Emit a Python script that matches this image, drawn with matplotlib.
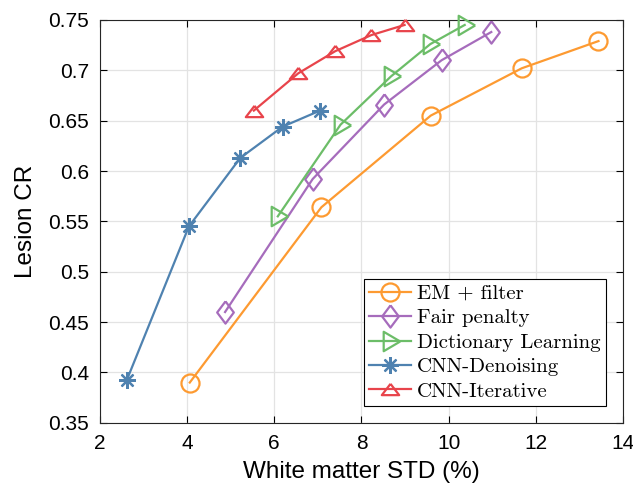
import matplotlib
matplotlib.use("Agg")
import matplotlib.pyplot as plt

# values
em_x = [4.06, 7.08, 9.59, 11.68, 13.44]
em_y = [0.390, 0.564, 0.655, 0.702, 0.729]

fair_x = [4.87, 6.88, 8.52, 9.84, 10.98]
fair_y = [0.460, 0.592, 0.666, 0.710, 0.738]

dict_x = [6.08, 7.52, 8.68, 9.58, 10.37]
dict_y = [0.555, 0.646, 0.694, 0.726, 0.745]

cnnd_x = [2.62, 4.04, 5.22, 6.19, 7.05]
cnnd_y = [0.393, 0.545, 0.613, 0.644, 0.660]

cnni_x = [5.53, 6.55, 7.40, 8.23, 8.99]
cnni_y = [0.660, 0.697, 0.719, 0.735, 0.745]

labels = ["EM + filter", "Fair penalty", "Dictionary Learning",
          "CNN-Denoising", "CNN-Iterative"]
colors = ["#fd9a31", "#a66cbc", "#6cbd68", "#4f82b0", "#e8444b"]

xticks = [2, 4, 6, 8, 10, 12, 14]
yticks = [0.35, 0.4, 0.45, 0.5, 0.55, 0.6, 0.65, 0.7, 0.75]
ytick_labels = ["0.35", "0.4", "0.45", "0.5", "0.55", "0.6", "0.65", "0.7", "0.75"]

# matlab-like marker shapes
diamond = [(0, 1), (0.75, 0), (0, -1), (-0.75, 0), (0, 1)]
tri_right = [(1, 0), (-0.7, 1), (-0.7, -1), (1, 0)]
tri_up = [(0, 0.65), (1, -0.65), (-1, -0.65), (0, 0.65)]

plt.rcParams['font.family'] = ['Liberation Sans', 'DejaVu Sans']

fig = plt.figure(figsize=(6.33, 4.86), dpi=100)
ax = fig.add_axes([0.158, 0.130, 0.826, 0.829])

series = [
    (em_x, em_y, 'o', 13),
    (fair_x, fair_y, diamond, 16),
    (dict_x, dict_y, tri_right, 14),
    (cnnd_x, cnnd_y, (8, 2, 0), 12),
    (cnni_x, cnni_y, tri_up, 12.5),
]
for (xs, ys, mk, ms), lab, col in zip(series, labels, colors):
    ax.plot(xs, ys, color=col, lw=1.6, marker=mk, ms=ms,
            mfc='none', mec=col, mew=1.6, label=lab, clip_on=False, zorder=3)

ax.set_xlim(2, 14)
ax.set_ylim(0.35, 0.75)
ax.set_xticks(xticks)
ax.set_yticks(yticks)
ax.set_yticklabels(ytick_labels)
ax.tick_params(direction='in', top=True, right=True, labelsize=15,
               length=5, width=0.8, pad=8)
ax.grid(True, color='#e3e3e3', lw=0.9)
ax.set_axisbelow(True)
for s in ax.spines.values():
    s.set_linewidth(0.8)
    s.set_color('#262626')

ax.set_xlabel("White matter STD (%)", fontsize=17.5, labelpad=6)
ax.set_ylabel("Lesion CR", fontsize=17.5, labelpad=8)

leg = ax.legend(loc='lower right', bbox_to_anchor=(0.967, 0.042), borderaxespad=0,
                prop={'family': 'cmr10', 'size': 15}, fancybox=False,
                edgecolor='black', framealpha=1, handlelength=2.0,
                handletextpad=0.3, labelspacing=0.28, borderpad=0.25)
leg.get_frame().set_linewidth(0.8)

plt.savefig("out.png", dpi=100)
